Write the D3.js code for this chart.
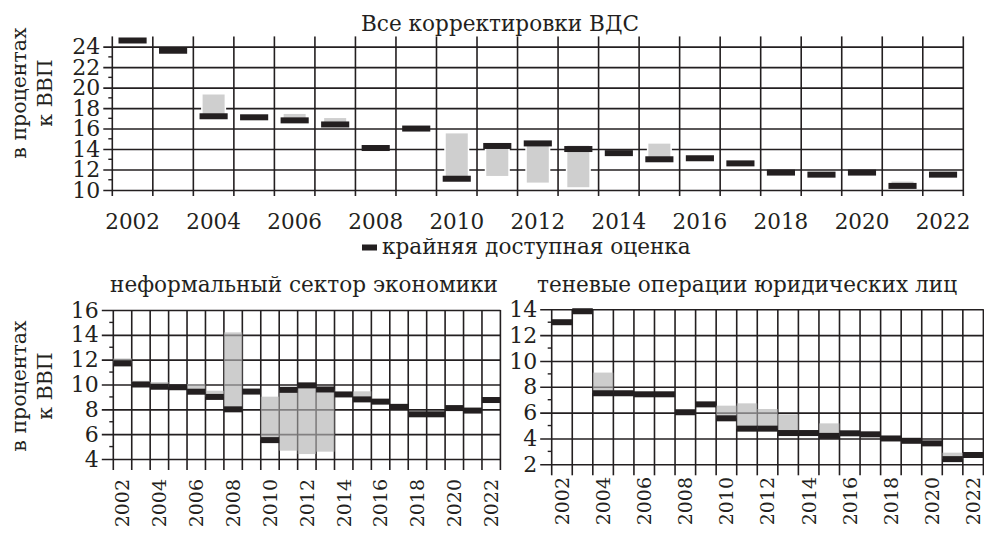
<!DOCTYPE html>
<html>
<head>
<meta charset="utf-8">
<script src="https://cdn.jsdelivr.net/npm/d3@7"></script>
<style>
  body { margin: 0; background: #fff; }
  text { font-family: "DejaVu Serif", serif; fill: #231f20; }
</style>
</head>
<body>
<svg id="chart" width="984" height="536"></svg>
<script>
// years and labelled years
const years = [2002, 2003, 2004, 2005, 2006, 2007, 2008, 2009, 2010, 2011, 2012,
               2013, 2014, 2015, 2016, 2017, 2018, 2019, 2020, 2021, 2022];
const yearLabels = [2002, 2004, 2006, 2008, 2010, 2012, 2014, 2016, 2018, 2020, 2022];

// Все корректировки ВДС
const allLatest   = [24.6, 23.6, 17.2, 17.1, 16.8, 16.4, 14.1, 16.0, 11.1, 14.3, 14.55,
                     14.0, 13.6, 13.0, 13.1, 12.6, 11.7, 11.5, 11.7, 10.4, 11.5];
const allRangeLow = [null, null, 17.2, null, 16.8, 16.4, 14.1, null, 11.1, 11.3, 10.65,
                     10.2, null, 13.0, null, null, null, null, null, 10.4, null];
const allRangeHigh= [null, null, 19.4, null, 17.5, 17.1, 14.4, null, 15.6, 14.3, 14.55,
                     14.4, null, 14.6, null, null, null, null, null, 10.9, null];
const allTicks = [10, 12, 14, 16, 18, 20, 22, 24];
const allMinor = [11, 13, 15, 17, 19, 21, 23];

// неформальный сектор экономики
const infLatest   = [11.7, 10.0, 9.82, 9.78, 9.42, 9.0, 8.0, 9.43, 5.52, 9.57, 9.93,
                     9.6, 9.2, 8.8, 8.62, 8.2, 7.6, 7.6, 8.1, 7.9, 8.75];
const infRangeLow = [11.7, 10.0, 9.82, 9.78, 9.42, 9.0, 8.0, null, 5.52, 4.67, 4.4,
                     4.59, null, 8.8, null, null, null, null, null, null, null];
const infRangeHigh= [12.1, 10.3, 10.2, 10.0, 10.04, 9.5, 14.2, null, 9.02, 9.57, 9.93,
                     9.6, null, 9.45, null, null, null, null, null, null, null];
const infTicks = [4, 6, 8, 10, 12, 14, 16];
const infMinor = [5, 7, 9, 11, 13, 15];

// теневые операции юридических лиц
const shdLatest   = [13.0, 13.85, 7.5, 7.5, 7.42, 7.42, 6.03, 6.64, 5.56, 4.76, 4.76,
                     4.42, 4.42, 4.2, 4.4, 4.32, 4.0, 3.82, 3.62, 2.4, 2.72];
const shdRangeLow = [null, null, 7.5, null, null, null, null, null, 5.56, 4.76, 4.76,
                     4.42, null, 4.2, null, null, null, null, null, 2.4, null];
const shdRangeHigh= [null, null, 9.1, null, null, null, null, null, 6.54, 6.72, 6.28,
                     5.87, null, 5.17, null, null, null, null, null, 2.9, null];
const shdTicks = [2, 4, 6, 8, 10, 12, 14];
const shdMinor = [3, 5, 7, 9, 11, 13];

const ink = "#231f20";
const svg = d3.select("#chart");

function draw_panel(cfg) {
    const g = svg.append("g");
    const x = d3.scaleBand().domain(years).range([cfg.left, cfg.right]);
    const y = d3.scaleLinear().domain(cfg.domain).range([cfg.bottom, cfg.top]);
    const w = cfg.right - cfg.left;

    const rows = years.map((yr, i) => ({
        year: yr, latest: cfg.latest[i], low: cfg.low[i], high: cfg.high[i]
    }));

    // vertical grid lines on year boundaries
    const edges = years.map(yr => x(yr)).concat([cfg.right]);
    g.selectAll(".vline")
        .data(edges)
        .enter()
        .append("line")
        .attr("x1", d => d).attr("x2", d => d)
        .attr("y1", y(cfg.domain[1]))
        .attr("y2", cfg.bottom + cfg.vExtra)
        .attr("stroke", ink)
        .attr("stroke-width", 1.6);

    // y axis with full-width grid lines
    const yAxis = d3.axisLeft(y)
        .tickValues(cfg.ticks)
        .tickSizeInner(-w)
        .tickSizeOuter(0)
        .tickPadding(cfg.tickOut + 3)
        .tickFormat(d3.format("d"));
    const ga = g.append("g")
        .attr("transform", "translate(" + cfg.left + ",0)")
        .call(yAxis);
    ga.select(".domain").remove();
    ga.selectAll(".tick line")
        .attr("x1", -cfg.tickOut)
        .attr("stroke", ink)
        .attr("stroke-width", 1.6);
    ga.selectAll(".tick text")
        .attr("font-family", "DejaVu Serif")
        .attr("font-size", 22)
        .attr("fill", ink);

    // minor ticks
    g.selectAll(".minor")
        .data(cfg.minor)
        .enter()
        .append("line")
        .attr("x1", cfg.left - 4).attr("x2", cfg.left)
        .attr("y1", d => y(d)).attr("y2", d => y(d))
        .attr("stroke", ink)
        .attr("stroke-width", 1.4);

    // grey ranges of revisions (over the grid)
    g.selectAll(".range")
        .data(rows.filter(d => d.high != null))
        .enter()
        .append("rect")
        .attr("x", d => x(d.year) + cfg.greyInset)
        .attr("width", x.bandwidth() - 2 * cfg.greyInset)
        .attr("y", d => y(d.high))
        .attr("height", d => y(d.low) - y(d.high))
        .attr("fill", cfg.greyFill)
        .attr("fill-opacity", cfg.greyOpacity)
        .attr("stroke", cfg.greyStroke)
        .attr("stroke-width", 1.5);

    // black marks: latest available estimate
    g.selectAll(".latest")
        .data(rows)
        .enter()
        .append("rect")
        .attr("x", d => x(d.year) + cfg.barInset)
        .attr("width", x.bandwidth() - 2 * cfg.barInset)
        .attr("y", d => y(d.latest) - 3)
        .attr("height", 6)
        .attr("fill", ink);

    // year labels
    const xAxis = d3.axisBottom(x).tickValues(yearLabels).tickSize(0);
    const gx = g.append("g")
        .attr("transform", "translate(0," + cfg.labelY + ")")
        .call(xAxis);
    gx.select(".domain").remove();
    gx.selectAll(".tick text")
        .attr("font-family", "DejaVu Serif")
        .attr("font-size", cfg.labelSize)
        .attr("fill", ink);
    if (cfg.rotate) {
        gx.selectAll(".tick text")
            .attr("transform", "rotate(-90)")
            .attr("text-anchor", "end")
            .attr("x", 0)
            .attr("y", 0)
            .attr("dy", "0.36em");
    } else {
        gx.selectAll(".tick text").attr("dy", "0.71em");
    }

    // panel title
    g.append("text")
        .attr("x", cfg.titleX)
        .attr("y", cfg.titleY)
        .attr("text-anchor", "middle")
        .attr("font-size", 21.6)
        .text(cfg.title);

    // y axis caption
    if (cfg.caption) {
        const cy = cfg.captionY;
        g.append("text")
            .attr("transform", "translate(26," + cy + ") rotate(-90)")
            .attr("text-anchor", "middle")
            .attr("font-size", 20.5)
            .text("в процентах");
        g.append("text")
            .attr("transform", "translate(52," + cy + ") rotate(-90)")
            .attr("text-anchor", "middle")
            .attr("font-size", 20.5)
            .text("к ВВП");
    }
}

draw_panel({
    title: "Все корректировки ВДС", titleX: 500, titleY: 31,
    left: 112.3, right: 963.3, top: 36.4, bottom: 190, domain: [10, 25],
    latest: allLatest, low: allRangeLow, high: allRangeHigh,
    ticks: allTicks, minor: allMinor, tickOut: 9,
    barInset: 6.2, greyInset: 8.5, vExtra: 6,
    greyFill: "#cfcfcf", greyOpacity: 1, greyStroke: "#fff",
    labelY: 211, labelSize: 21.5, rotate: false,
    caption: true, captionY: 93
});

draw_panel({
    title: "неформальный сектор экономики", titleX: 304, titleY: 292,
    left: 113.3, right: 500.4, top: 310, bottom: 459, domain: [4, 16],
    latest: infLatest, low: infRangeLow, high: infRangeHigh,
    ticks: infTicks, minor: infMinor, tickOut: 11.5,
    barInset: 0, greyInset: 0, vExtra: 11,
    greyFill: "#b3b3b3", greyOpacity: 0.66, greyStroke: "none",
    labelY: 479, labelSize: 19, rotate: true,
    caption: true, captionY: 386
});

draw_panel({
    title: "теневые операции юридических лиц", titleX: 747, titleY: 292,
    left: 551.7, right: 983.4, top: 309.3, bottom: 464.3, domain: [2, 14],
    latest: shdLatest, low: shdRangeLow, high: shdRangeHigh,
    ticks: shdTicks, minor: shdMinor, tickOut: 11.5,
    barInset: 0, greyInset: 0, vExtra: 11,
    greyFill: "#b3b3b3", greyOpacity: 0.66, greyStroke: "none",
    labelY: 477, labelSize: 19, rotate: true,
    caption: false
});

// legend
const legend = svg.append("g");
legend.append("rect")
    .attr("x", 362).attr("y", 244.5)
    .attr("width", 15).attr("height", 6)
    .attr("fill", ink);
legend.append("text")
    .attr("x", 382).attr("y", 254)
    .attr("font-size", 21.6)
    .text("крайняя доступная оценка");
</script>
</body>
</html>
